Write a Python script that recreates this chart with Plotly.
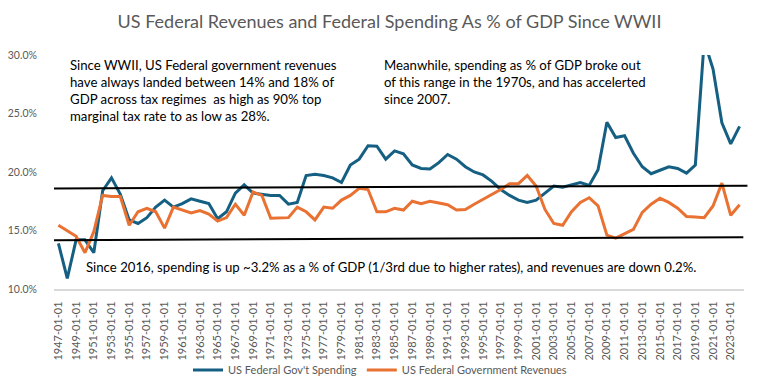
import plotly.graph_objects as go

years = list(range(1947, 2025))
dates = [f"{y}-01-01" for y in years]

spending = [13.9, 10.9, 14.2, 14.2, 13.1, 18.4, 19.5, 18.1, 15.9, 15.6,
            16.1, 17.0, 17.6, 17.0, 17.3, 17.7, 17.5, 17.3, 16.0, 16.6,
            18.2, 18.9, 18.2, 18.1, 18.0, 18.0, 17.25, 17.4, 19.7, 19.8,
            19.7, 19.5, 19.1, 20.6, 21.1, 22.25, 22.2, 21.1, 21.8, 21.55,
            20.6, 20.3, 20.25, 20.8, 21.5, 21.1, 20.45, 20.0, 19.75, 19.2,
            18.5, 18.0, 17.6, 17.4, 17.6, 18.2, 18.8, 18.7, 18.9, 19.1,
            18.85, 20.2, 24.25, 22.95, 23.1, 21.6, 20.45, 19.85, 20.15, 20.45,
            20.3, 19.9, 20.6, 31.2, 28.8, 24.2, 22.4, 23.9]

revenues = [15.45, 14.97, 14.5, 13.1, 14.9, 18.0, 17.9, 17.9, 15.45, 16.6,
            16.9, 16.6, 15.2, 17.0, 16.75, 16.5, 16.7, 16.4, 15.8, 16.1,
            17.25, 16.3, 18.3, 18.0, 16.05, 16.1, 16.1, 17.0, 16.6, 15.9,
            17.0, 16.9, 17.6, 18.0, 18.6, 18.5, 16.6, 16.6, 16.9, 16.75,
            17.5, 17.3, 17.5, 17.35, 17.2, 16.75, 16.8, 17.25, 17.65, 18.1,
            18.5, 19.0, 19.0, 19.7, 18.8, 16.8, 15.6, 15.45, 16.6, 17.4,
            17.8, 17.1, 14.6, 14.35, 14.75, 15.1, 16.55, 17.25, 17.75, 17.4,
            16.9, 16.2, 16.15, 16.1, 17.1, 19.05, 16.3, 17.2]

tick_labels = dates[::2]
y_ticks = [10, 15, 20, 25, 30]
y_tick_text = [f"{v:.1f}%" for v in y_ticks]

band_upper = [18.6, 18.83]
band_lower = [14.17, 14.42]

title_text = "US Federal Revenues and Federal Spending As % of GDP Since WWII"
note_left = ("Since WWII, US Federal government revenues<br>"
             "have always landed between 14% and 18% of<br>"
             "GDP across tax regimes  as high as 90% top<br>"
             "marginal tax rate to as low as 28%.")
note_right = ("Meanwhile, spending as % of GDP broke out<br>"
              "of this range in the 1970s, and has accelerted<br>"
              "since 2007.")
note_bottom = ("Since 2016, spending is up ~3.2% as a % of GDP (1/3rd due to higher rates), "
               "and revenues are down 0.2%.")

BLUE = "#156082"
ORANGE = "#E97132"
GRAY = "#595959"
FONT = "Lato"

fig = go.Figure()
fig.add_trace(go.Scatter(x=dates, y=spending, mode="lines", name="US Federal Gov't Spending",
                         line=dict(color=BLUE, width=3)))
fig.add_trace(go.Scatter(x=dates, y=revenues, mode="lines", name="US Federal Government Revenues",
                         line=dict(color=ORANGE, width=3)))

fig.add_shape(type="line", xref="x domain", yref="y", x0=0, x1=1.005,
              y0=band_upper[0], y1=band_upper[1], line=dict(color="black", width=2))
fig.add_shape(type="line", xref="x domain", yref="y", x0=0, x1=0.999,
              y0=band_lower[0], y1=band_lower[1], line=dict(color="black", width=2))

ann_font = dict(family=FONT, size=13.2, color="black")
fig.add_annotation(xref="paper", yref="paper", x=(60-46)/690, y=(287-47)/240, xanchor="left",
                   yanchor="top", text=note_left, showarrow=False, align="left", font=ann_font)
fig.add_annotation(xref="paper", yref="paper", x=(374-46)/690, y=(287-47)/240, xanchor="left",
                   yanchor="top", text=note_right, showarrow=False, align="left", font=ann_font)
fig.add_annotation(xref="paper", yref="paper", x=(76-46)/690, y=(287-264)/240, xanchor="left",
                   yanchor="middle", text=note_bottom, showarrow=False, align="left", font=ann_font)

fig.update_layout(
    width=763, height=388,
    margin=dict(l=46, r=27, t=47, b=101),
    paper_bgcolor="white", plot_bgcolor="white",
    title=dict(text=title_text, x=0.5, xanchor="center", y=1 - 14/388, yanchor="middle",
               font=dict(family=FONT, size=18, color=GRAY)),
    font=dict(family=FONT, color=GRAY),
    showlegend=True,
    legend=dict(orientation="h", x=(372-46)/690, xanchor="center", y=-83/240, yanchor="middle",
                font=dict(family=FONT, size=11, color=GRAY), itemwidth=30, bgcolor="rgba(0,0,0,0)"),
)
fig.update_xaxes(type="category", tickmode="array", tickvals=tick_labels, ticktext=tick_labels,
                 tickangle=-90, tickfont=dict(family=FONT, size=11, color=GRAY),
                 showgrid=False, showline=True, linecolor="#d9d9d9", linewidth=2,
                 ticks="outside", ticklen=6, tickcolor="rgba(0,0,0,0)",
                 range=[-0.5, len(dates) - 0.5], automargin=False)
fig.update_yaxes(range=[10, 30], tickmode="array", tickvals=y_ticks, ticktext=y_tick_text,
                 tickfont=dict(family=FONT, size=10.5, color=GRAY), showgrid=False,
                 zeroline=False, showline=False, ticks="outside", ticklen=14,
                 tickcolor="rgba(0,0,0,0)", automargin=False)

fig.write_html("out.html")
